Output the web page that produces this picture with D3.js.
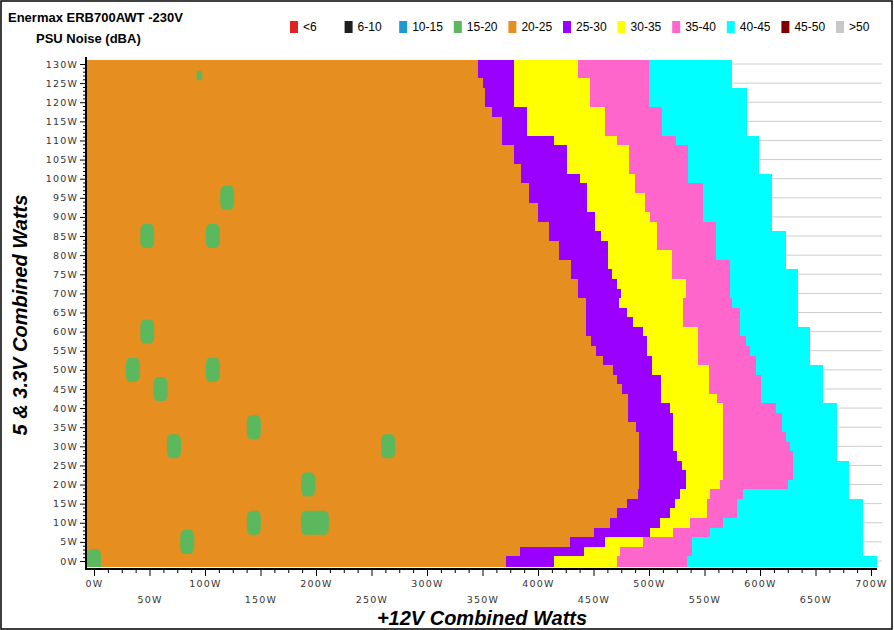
<!DOCTYPE html>
<html>
<head>
<meta charset="utf-8">
<script src="https://cdn.jsdelivr.net/npm/d3@7"></script>
<style>
  body { margin: 0; background: #fff; }
  svg { display: block; }
  .tick text { font-family: "DejaVu Sans", Verdana, sans-serif; font-size: 9.5px; fill: #333; letter-spacing: 1.2px; }
</style>
</head>
<body>
<script>
// ---------------Data---------------
// rows of +5V/+3.3V combined load (W)
const rowLoad5V = [0, 2.5, 5, 7.5, 10, 12.5, 15, 17.5, 20, 22.5, 25, 27.5, 30, 32.5, 35, 37.5, 40, 42.5, 45, 47.5,
  50, 52.5, 55, 57.5, 60, 62.5, 65, 67.5, 70, 72.5, 75, 77.5, 80, 82.5, 85, 87.5, 90, 92.5, 95, 97.5,
  100, 102.5, 105, 107.5, 110, 112.5, 115, 117.5, 120, 122.5, 125, 127.5, 130]

// +12V load (W) where each noise band begins, per row
const purpleFrom = [371, 384, 429, 450, 465, 471, 480, 490, 491, 491, 491, 491, 491, 491, 488, 481, 481, 481, 476, 471,
  468, 459, 452, 448, 443, 443, 443, 443, 436, 436, 430, 430, 419, 419, 410, 410, 400, 400, 392, 392,
  385, 385, 378, 378, 368, 368, 368, 359, 352, 352, 350, 346, 346]
const yellowFrom = [414, 441, 460, 501, 510, 519, 523, 528, 533, 533, 530, 525, 522, 522, 522, 522, 519, 511, 511, 511,
  503, 503, 498, 498, 495, 486, 480, 473, 475, 471, 467, 463, 463, 463, 457, 451, 451, 444, 444, 444,
  438, 426, 426, 426, 414, 390, 390, 390, 378, 378, 378, 378, 378]
const pinkFrom = [471, 474, 495, 522, 537, 552, 552, 555, 564, 567, 567, 567, 567, 567, 567, 567, 567, 561, 554, 554,
  554, 544, 544, 544, 544, 531, 531, 531, 533, 533, 521, 521, 521, 507, 507, 507, 501, 496, 496, 487,
  487, 482, 482, 482, 471, 460, 460, 460, 447, 447, 447, 436, 436]
const cyanFrom = [534, 539, 539, 555, 567, 579, 579, 585, 625, 630, 630, 630, 627, 623, 620, 620, 614, 601, 601, 601,
  596, 596, 591, 587, 582, 582, 582, 575, 573, 573, 573, 573, 560, 560, 560, 560, 549, 549, 549, 549,
  535, 535, 535, 535, 524, 512, 512, 512, 500, 500, 500, 500, 500]
const loadEnd = [705, 693, 693, 693, 693, 693, 693, 680, 680, 680, 680, 669, 669, 669, 669, 669, 669, 657, 657, 657,
  657, 645, 645, 645, 645, 634, 634, 634, 634, 634, 634, 623, 623, 623, 623, 611, 611, 611, 611, 611,
  611, 599, 599, 599, 599, 588, 588, 588, 588, 588, 575, 575, 575]

// quieter (15-20 dBA) spots
const spot12V = [0, 95, 120, 48, 107, 48, 35, 107, 60, 144, 72, 265, 193, 144, 199, 84]
const spot5V = [0, 127, 95, 85, 85, 60, 50, 50, 45, 35, 30, 30, 20, 10, 10, 5]
const spotCells = [1, 0.4, 1, 1, 1, 1, 1, 1, 1, 1, 1, 1, 1, 1, 2, 1]

const legendLabels = ['<6', '6-10', '10-15', '15-20', '20-25', '25-30', '30-35', '35-40', '40-45', '45-50', '>50']
const legendColors = ['#e02424', '#1e1e1e', '#1c9ad2', '#5cb85c', '#e68e1f', '#9a00ff', '#ffff00', '#ff66cc', '#00ffff', '#800000', '#c8c8c8']
const bandColors = ['#e68e1f', '#9a00ff', '#ffff00', '#ff66cc', '#00ffff']
const spotColor = '#5cb85c'

// ---------------Chart---------------
const fullWidth = 894
const fullHeight = 630
const plot = { left: 86, right: 882, top: 60, bottom: 569 }

const svg = d3.select('body')
  .append('svg')
  .attr('width', fullWidth)
  .attr('height', fullHeight)

const x = d3.scaleLinear().domain([0, 700]).range([94, 871])
const y = d3.scaleLinear().domain([0, 130]).range([561, 64])

// gridlines
svg.append('g')
  .selectAll('line')
  .data(d3.range(0, 131, 5))
  .enter().append('line')
  .attr('x1', plot.left)
  .attr('x2', plot.right)
  .attr('y1', d => y(d))
  .attr('y2', d => y(d))
  .attr('stroke', '#cccccc')
  .attr('stroke-width', 1)

// bands, row by row
const cells = []
rowLoad5V.forEach((v, i) => {
  const lo = i === 0 ? -1.55 : v - 1.25
  const hi = i === rowLoad5V.length - 1 ? 131 : v + 1.25
  const edges = [-6.6, purpleFrom[i], yellowFrom[i], pinkFrom[i], cyanFrom[i], loadEnd[i]]
  for (let k = 0; k < 5; k++) {
    cells.push({ x0: edges[k], x1: edges[k + 1], lo, hi, color: bandColors[k] })
  }
})

svg.append('g')
  .attr('shape-rendering', 'crispEdges')
  .selectAll('rect')
  .data(cells)
  .enter().append('rect')
  .attr('x', d => Math.round(x(d.x0)))
  .attr('width', d => Math.round(x(d.x1)) - Math.round(x(d.x0)))
  .attr('y', d => Math.round(y(d.hi)))
  .attr('height', d => Math.round(y(d.lo)) - Math.round(y(d.hi)))
  .attr('fill', d => d.color)

// green spots
svg.append('clipPath')
  .attr('id', 'data-clip')
  .append('rect')
  .attr('x', plot.left + 1)
  .attr('y', plot.top)
  .attr('width', plot.right - plot.left)
  .attr('height', y(-1.55) - plot.top)

const cellW = x(12.6) - x(0)
const cellH = y(0) - y(6.3)
svg.append('g')
  .attr('clip-path', 'url(#data-clip)')
  .selectAll('rect')
  .data(spot12V.map((w, i) => ({ w, v: spot5V[i], n: spotCells[i] })))
  .enter().append('rect')
  .attr('x', d => x(d.w) - cellW * d.n / 2)
  .attr('y', d => y(d.v) - cellH * Math.min(d.n, 1) / 2)
  .attr('width', d => cellW * d.n)
  .attr('height', d => cellH * Math.min(d.n, 1))
  .attr('rx', d => d.n < 1 ? 2 : 4)
  .attr('ry', d => d.n < 1 ? 2 : 7)
  .attr('fill', spotColor)

// ---------------Axes---------------
const yAxis = d3.axisLeft(y)
  .tickValues(d3.range(0, 131, 1))
  .tickFormat(d => d % 5 === 0 ? d + 'W' : '')
  .tickSizeOuter(0)

const gy = svg.append('g')
  .attr('transform', `translate(${plot.left},0)`)
  .call(yAxis)
gy.select('.domain').remove()
gy.selectAll('.tick line')
  .attr('x2', d => d % 5 === 0 ? -6 : -3)
  .attr('stroke', '#000')
gy.selectAll('.tick text').attr('x', -8)

const xAxis = d3.axisBottom(x)
  .tickValues(d3.range(0, 701, 12.5))
  .tickFormat(d => d % 50 === 0 ? d + 'W' : '')
  .tickSizeOuter(0)

const gx = svg.append('g')
  .attr('transform', `translate(0,${plot.bottom})`)
  .call(xAxis)
gx.select('.domain').remove()
gx.selectAll('.tick line')
  .attr('y2', d => d % 50 === 0 ? 7 : 4)
  .attr('stroke', '#000')
gx.selectAll('.tick text')
  .attr('y', d => d % 100 === 0 ? 11 : 27)

// axis lines
svg.append('line')
  .attr('x1', plot.left).attr('x2', plot.left)
  .attr('y1', 57).attr('y2', plot.bottom + 1)
  .attr('stroke', '#000').attr('stroke-width', 2)
svg.append('line')
  .attr('x1', plot.left - 1).attr('x2', 877)
  .attr('y1', plot.bottom).attr('y2', plot.bottom)
  .attr('stroke', '#000').attr('stroke-width', 2)

// axis titles
svg.append('text')
  .attr('x', 482)
  .attr('y', 625)
  .attr('text-anchor', 'middle')
  .style('font-family', '"Liberation Sans", Arial, sans-serif')
  .style('font-size', '20px')
  .style('font-weight', 'bold')
  .style('font-style', 'italic')
  .text('+12V Combined Watts')

svg.append('text')
  .attr('transform', 'translate(27,315) rotate(-90)')
  .attr('text-anchor', 'middle')
  .style('font-family', '"Liberation Sans", Arial, sans-serif')
  .style('font-size', '20px')
  .style('font-weight', 'bold')
  .style('font-style', 'italic')
  .text('5 & 3.3V Combined Watts')

// ---------------Title---------------
svg.append('text')
  .attr('x', 8).attr('y', 22)
  .style('font-family', '"Liberation Sans", Arial, sans-serif')
  .style('font-size', '13px')
  .style('font-weight', 'bold')
  .text('Enermax ERB700AWT -230V')

svg.append('text')
  .attr('x', 36).attr('y', 43)
  .style('font-family', '"Liberation Sans", Arial, sans-serif')
  .style('font-size', '13px')
  .style('font-weight', 'bold')
  .text('PSU Noise (dBA)')

// ---------------Legend---------------
const legend = svg.append('g')
  .selectAll('g')
  .data(legendLabels)
  .enter().append('g')
  .attr('transform', (d, i) => `translate(${290 + i * 54.6},21)`)

legend.append('rect')
  .attr('width', 8)
  .attr('height', 12)
  .attr('fill', (d, i) => legendColors[i])

legend.append('text')
  .attr('x', 13)
  .attr('y', 10)
  .style('font-family', '"Liberation Sans", Arial, sans-serif')
  .style('font-size', '12px')
  .text(d => d)

// outer frame
svg.append('rect')
  .attr('x', 1).attr('y', 1)
  .attr('width', fullWidth - 3).attr('height', fullHeight - 2)
  .attr('fill', 'none')
  .attr('stroke', '#000')
  .attr('stroke-width', 1.5)
</script>
</body>
</html>
